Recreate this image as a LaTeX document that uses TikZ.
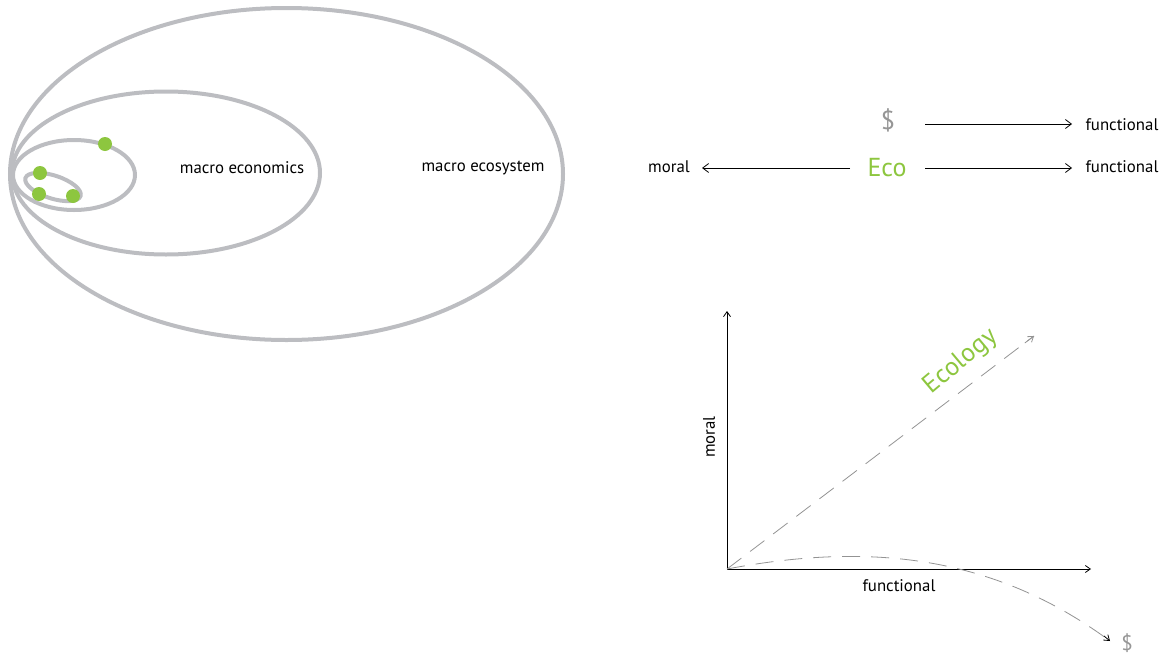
\documentclass[tikz,border=0pt]{standalone}
\usepackage{fontspec}
\setmainfont{PT Sans}
\usetikzlibrary{arrows.meta,calc}
\definecolor{ringgray}{RGB}{188,189,193}
\definecolor{ecogreen}{RGB}{141,198,63}
\definecolor{dollargray}{RGB}{150,150,150}
\begin{document}
\begin{tikzpicture}[x=1pt,y=-1pt,
  ring/.style={draw=ringgray,line width=4pt},
  dot/.style={circle,fill=ecogreen,minimum size=14pt,inner sep=0pt},
  lbl/.style={font=\fontsize{16.8}{19}\selectfont,inner sep=2pt},
  big/.style={font=\fontsize{26}{30}\selectfont,inner sep=2pt},
  arr/.style={draw=black,line width=0.8pt,-{Straight Barb[length=6pt,width=9pt]}},
  axis/.style={draw=black,line width=0.8pt,-{Straight Barb[length=5pt,width=7pt]}},
  trend/.style={draw=gray!85,line width=0.8pt,dash pattern=on 18pt off 11pt},
]
\useasboundingbox (0,0) rectangle (1175,656);

% nested rings
\draw[ring] (286.5,174) ellipse [x radius=276.5pt, y radius=166pt];
\draw[ring] (166,173) ellipse [x radius=154pt, y radius=81.5pt];
\draw[ring] (74,175) ellipse [x radius=61pt, y radius=35pt];
\draw[ring] (53,187) ellipse [x radius=29pt, y radius=11.5pt, rotate=-18];

% members
\node[dot] (d1) at (105,144) {};
\node[dot] (d2) at (40,173) {};
\node[dot] (d3) at (39,194) {};
\node[dot] (d4) at (73,196) {};

\node[lbl] (mecon) at (242,168) {macro economics};
\node[lbl] (meco) at (483,168) {macro ecosystem};

% orientation of $ and Eco
\node[big,text=dollargray] (usd) at (888,120) {\$};
\node[big,text=ecogreen] (eco) at (887,168) {Eco};
\node[lbl] (f1) at (1122,125) {functional};
\node[lbl] (f2) at (1122,167) {functional};
\node[lbl] (m1) at (669,167) {moral};
\coordinate (u1) at (925,124);
\coordinate (u2) at (1072,124);
\coordinate (e1) at (925,168);
\coordinate (e2) at (1072,168);
\coordinate (e3) at (850,168);
\coordinate (e4) at (702,168);
\draw[arr] (u1) -- (u2);
\draw[arr] (e1) -- (e2);
\draw[arr] (e3) -- (e4);

% moral / functional plane
\coordinate (o) at (727,569);
\coordinate (ytop) at (727,311);
\coordinate (xend) at (1091,569);
\draw[axis] (o) -- (ytop);
\draw[axis] (o) -- (xend);
\node[lbl] (fx) at (899,586) {functional};
\node[lbl,rotate=90] (my) at (709,437) {moral};

\coordinate (ecoend) at (1034,336);
\draw[trend] (o) -- (ecoend);
\draw[draw=gray!85,line width=0.8pt,-{Straight Barb[length=5pt,width=7pt]}] ($(o)!0.97!(ecoend)$) -- (ecoend);
\node[big,text=ecogreen,rotate=40,inner sep=0pt] (ecol) at (961,362) {Ecology};

\coordinate (dend) at (1110,641);
\draw[trend] (o) .. controls (880,540) and (1000,560) .. (dend);
\draw[draw=black,line width=0.8pt,-{Straight Barb[length=5pt,width=7pt]}] (1104,636) -- (dend);
\node[text=dollargray,font=\fontsize{21}{24}\selectfont,inner sep=0pt] (usd2) at (1127,643) {\$};
\end{tikzpicture}
\end{document}
